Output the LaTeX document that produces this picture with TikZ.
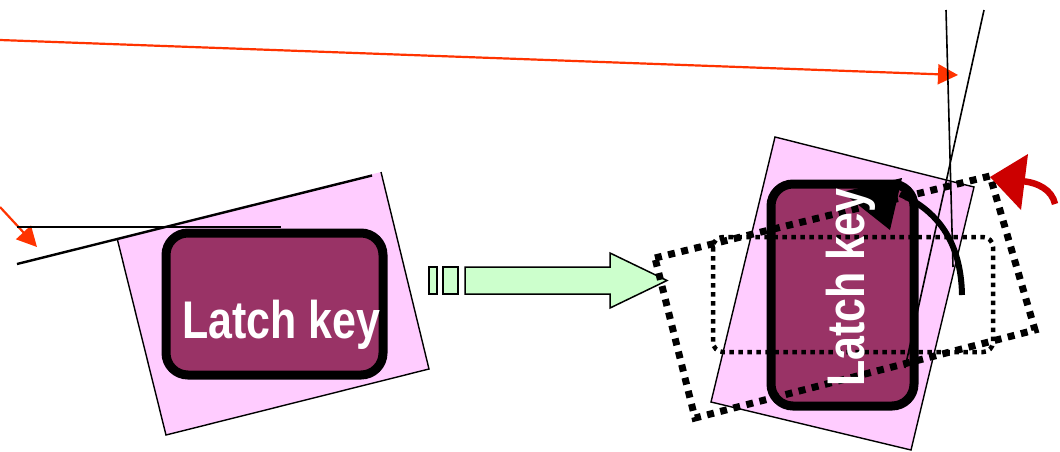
\documentclass[tikz,border=0pt]{standalone}
\usepackage{fontspec}
\usetikzlibrary{arrows.meta}
\newfontfamily\keyfont[FakeStretch=0.81]{Liberation Sans}
\definecolor{platepink}{HTML}{FFCCFF}
\definecolor{keyplum}{HTML}{993366}
\definecolor{pushgreen}{HTML}{CCFFCC}
\definecolor{rayred}{HTML}{FF3300}
\definecolor{turnred}{HTML}{CC0000}
\tikzset{
  plate/.style={fill=platepink, draw=black, line width=1.4pt},
  keybody/.style={fill=keyplum, draw=black, line width=9pt, rounded corners=22pt},
  keytext/.style={text=white, font=\keyfont\bfseries\fontsize{53}{60}\selectfont, inner sep=0pt},
  ray/.style={draw=rayred, line width=2.2pt, -{Triangle[length=20pt,width=20pt]}},
  guide/.style={draw=black, line width=1.6pt},
  pusharrow/.style={fill=pushgreen, draw=black, line width=1.5pt},
  finedots/.style={draw=black, line width=4.5pt, dash pattern=on 4.5pt off 4.5pt, rounded corners=10pt},
  heavydots/.style={draw=black, line width=7pt, dash pattern=on 7pt off 6.5pt},
}
\begin{document}
\begin{tikzpicture}[x=1pt, y=-1pt]
\useasboundingbox (0,0) rectangle (1060,451);

% long ray across the top and short ray on the left
\coordinate (rayA0) at (0,40);
\coordinate (rayA1) at (958,75);
\draw[ray] (rayA0) -- (rayA1);
\coordinate (rayB0) at (0,207);
\coordinate (rayB1) at (37,247);
\draw[ray] (rayB0) -- (rayB1);

% left key: tilted plate
\coordinate (lp1) at (117,238);
\coordinate (lp2) at (381,172);
\coordinate (lp3) at (429,369);
\coordinate (lp4) at (166,435);
\fill[platepink] (lp1) -- (lp2) -- (lp3) -- (lp4) -- cycle;
\draw[line width=1.4pt] (lp2) -- (lp3) -- (lp4) -- (lp1);

% reference lines at the left
\coordinate (g1a) at (17,227);
\coordinate (g1b) at (281,227);
\draw[guide] (g1a) -- (g1b);
\coordinate (g2a) at (17,264);
\coordinate (g2b) at (372,175.5);
\draw[black, line width=2.4pt] (g2a) -- (g2b);

% left key body
\draw[keybody] (166,233) rectangle (383,375);
\node[keytext, anchor=base] (keyL) at (281.5,338) {Latch key};

% push arrow with its two trailing bars
\draw[pusharrow] (429,267) rectangle (437,294);
\draw[pusharrow] (443,267) rectangle (458,294);
\coordinate (pa1) at (465,267);
\coordinate (pa2) at (610,267);
\coordinate (pa3) at (610,253);
\coordinate (pa4) at (667,280.5);
\coordinate (pa5) at (610,308);
\coordinate (pa6) at (610,294);
\coordinate (pa7) at (465,294);
\draw[pusharrow] (pa1) -- (pa2) -- (pa3) -- (pa4) -- (pa5) -- (pa6) -- (pa7) -- cycle;

% right key: tilted plate
\coordinate (rp1) at (775,137);
\coordinate (rp2) at (974,187);
\coordinate (rp3) at (911,450);
\coordinate (rp4) at (711,402);
\draw[plate] (rp1) -- (rp2) -- (rp3) -- (rp4) -- cycle;

% right key body
\draw[keybody] (771,184) rectangle (914,406);

% outlines of the key positions
\draw[finedots] (713,237) rectangle (993,352);
\coordinate (hd1) at (655,258);
\coordinate (hd2) at (990,176);
\coordinate (hd3) at (1035,330);
\coordinate (hd4) at (695,418);
\draw[heavydots] (hd1) -- (hd2) -- (hd3) -- (hd4) -- cycle;

% crossing sight lines
\coordinate (sA0) at (946,10);
\coordinate (sA1) at (953,267);
\draw[guide] (sA0) -- (sA1);
\coordinate (sB0) at (984,10);
\coordinate (sB1) at (905,368);
\draw[guide] (sB0) -- (sB1);

% turning arrow inside the key
\coordinate (tk0) at (962,295);
\coordinate (tk1) at (900,194);
\draw[black, line width=6pt] (tk0) .. controls (961,240) and (936,210) .. (tk1);
\coordinate (th1) at (902,178);
\coordinate (th2) at (842,192);
\coordinate (th3) at (890,230);
\fill[black] (th1) -- (th2) -- (th3) -- cycle;

\node[keytext, anchor=base, rotate=90] (keyR) at (864,287.5) {Latch key};

% red turning arrow at the corner
\coordinate (rt0) at (1055,204);
\coordinate (rt1) at (1020,181);
\draw[turnred, line width=6.5pt] (rt0) .. controls (1052,190) and (1038,182) .. (rt1);
\coordinate (rh1) at (990,177);
\coordinate (rh2) at (1028,154);
\coordinate (rh3) at (1021,210);
\fill[turnred] (rh1) -- (rh2) -- (rh3) -- cycle;
\end{tikzpicture}
\end{document}
